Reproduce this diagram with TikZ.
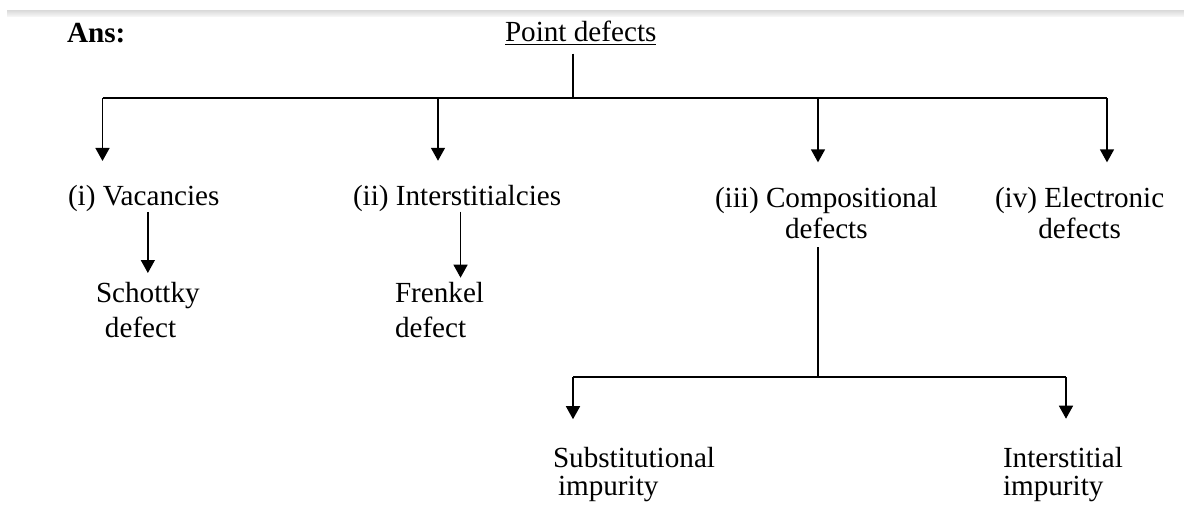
\documentclass[tikz,border=0pt]{standalone}
\usepackage{fontspec}
\setmainfont{Liberation Serif}
\usetikzlibrary{arrows.meta}

\begin{document}
\begin{tikzpicture}[x=0.02cm,y=-0.02cm,line width=0.03cm,
        font=\fontsize{16.6}{17.6}\selectfont,
        every node/.style={inner sep=0pt,outer sep=0pt},
        txt/.style={align=left,anchor=base west},
        arr/.style={-{Triangle[width=0.28cm,length=0.26cm]}}]
        \useasboundingbox (0,0) rectangle (1184,508);
        \shade[top color=gray!30,bottom color=gray!8] (7,10) rectangle (1184,16);

        \node[txt] (ans) at (67,42.7) {\textbf{Ans:}};
        \node[txt] (pd) at (505,41.7) {\underline{Point defects}};

        % base of a two-line node is the baseline of its last line
        \node[txt] (vac) at (68,205.7) {(i) Vacancies};
        \node[txt] (int) at (353,205.5) {(ii) Interstitialcies};
        \node[txt,align=center] (comp) at (715,238) {(iii) Compositional\\defects};
        \node[txt,align=center] (elec) at (995,238) {(iv) Electronic\\defects};

        \node[txt,font=\fontsize{16.6}{19.9}\selectfont] (sch) at (96,337.7) {Schottky\\\hspace*{0.18cm}defect};
        \node[txt,font=\fontsize{16.6}{19.4}\selectfont] (fr) at (395,337) {Frenkel\\defect};
        \node[txt,font=\fontsize{16.6}{15.4}\selectfont] (sub) at (553,495) {Substitutional\\\hspace*{0.1cm}impurity};
        \node[txt,font=\fontsize{16.6}{15.4}\selectfont] (iimp) at (1003,495) {Interstitial\\impurity};

        \coordinate (top) at (573,98);
        \coordinate (b1) at (102.5,98);
        \coordinate (b2) at (438,98);
        \coordinate (b3) at (818,98);
        \coordinate (b4) at (1107,98);
        \coordinate (cm) at (818,377);
        \coordinate (c1) at (573,377);
        \coordinate (c2) at (1066,377);

        % first level
        \draw[shorten <=0.16cm] (pd.south -| top) -- (top);
        \draw (b1) -- (b4);
        \draw[arr,shorten >=0.49cm] (b1) -- (b1 |- vac.north);
        \draw[arr,shorten >=0.49cm] (b2) -- (b2 |- int.north);
        \draw[arr,shorten >=0.49cm] (b3) -- (b3 |- comp.north);
        \draw[arr,shorten >=0.49cm] (b4) -- (b4 |- elec.north);

        % second level
        \draw[arr,shorten >=0.19cm] (vac.south -| sch.north) -- (sch.north);
        \draw[arr,shorten >=0.1cm] ([xshift=0.42cm]fr.north |- int.south) -- ([xshift=0.42cm]fr.north);
        \draw[shorten <=0.18cm] (comp.south -| cm) -- (cm);
        \draw (c1) -- (c2);
        \draw[arr,shorten >=0.57cm] (c1) -- (c1 |- sub.north);
        \draw[arr,shorten >=0.58cm] (c2) -- (c2 |- iimp.north);
\end{tikzpicture}
\end{document}
